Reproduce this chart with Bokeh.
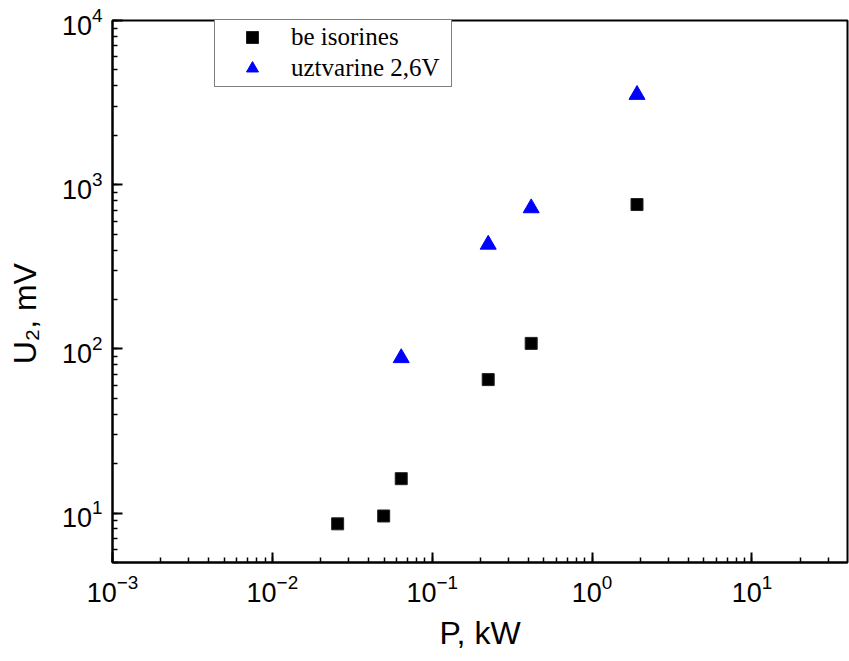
from bokeh.plotting import figure
from bokeh.models import Legend, LegendItem
from bokeh.embed import file_html
from bokeh.resources import INLINE

# data
p_kw_isorines = [0.0256, 0.0497, 0.064, 0.224, 0.416, 1.91]
u2_isorines = [8.6, 9.6, 16.2, 65, 108, 757]
p_kw_uzt = [0.064, 0.224, 0.416, 1.91]
u2_uzt = [88, 432, 720, 3530]
series_labels = ["be isorines", "uztvarine 2,6V"]

p = figure(width=849, height=661, x_axis_type="log", y_axis_type="log",
           x_range=(1e-3, 39.6), y_range=(5, 1e4),
           output_backend="svg", toolbar_location=None,
           min_border_left=112, min_border_right=2, min_border_top=20, min_border_bottom=99)

p.xgrid.visible = False
p.ygrid.visible = False
p.outline_line_color = "black"
p.outline_line_width = 2
p.background_fill_color = "white"
p.border_fill_color = "white"

r1 = p.scatter(p_kw_isorines, u2_isorines, marker="square", size=12,
               fill_color="black", line_color="#222222", line_width=1)
r2 = p.scatter(p_kw_uzt, u2_uzt, marker="triangle", size=16,
               fill_color="#0000FF", line_color="#0000FF", line_width=1)

for ax in (p.xaxis[0], p.yaxis[0]):
    ax.major_tick_in = 10
    ax.major_tick_out = 0
    ax.minor_tick_in = 5
    ax.minor_tick_out = 0
    ax.axis_line_width = 2
    ax.axis_line_color = "black"
    ax.major_tick_line_width = 2
    ax.major_tick_line_color = "black"
    ax.minor_tick_line_width = 1.5
    ax.minor_tick_line_color = "black"
    ax.major_label_text_font = "Liberation Sans"
    ax.major_label_text_font_size = "27px"
    ax.major_label_text_color = "black"
    ax.axis_label_text_font = "Liberation Sans"
    ax.axis_label_text_font_size = "32px"
    ax.axis_label_text_font_style = "normal"
    ax.axis_label_text_color = "black"

p.xaxis[0].axis_label = "P, kW"
p.xaxis[0].major_label_standoff = 11
p.xaxis[0].axis_label_standoff = 10
# trailing no-break spaces shift the rotated label downwards, as in the reference
p.yaxis[0].axis_label = "U\u2082, mV" + "\u00a0" * 5
p.yaxis[0].major_label_standoff = 10
p.yaxis[0].axis_label_standoff = 16

legend = Legend(items=[LegendItem(label=series_labels[0], renderers=[r1]),
                       LegendItem(label=series_labels[1], renderers=[r2])],
                location=(102, 475), margin=0, padding=3, spacing=1,
                glyph_width=68, glyph_height=30, label_standoff=5, label_width=157,
                label_text_font="Liberation Serif", label_text_font_size="25px",
                label_text_color="black",
                border_line_color="black", border_line_width=1,
                background_fill_color="white", background_fill_alpha=1)
p.add_layout(legend)

open("out.html", "w").write(file_html(p, INLINE))
